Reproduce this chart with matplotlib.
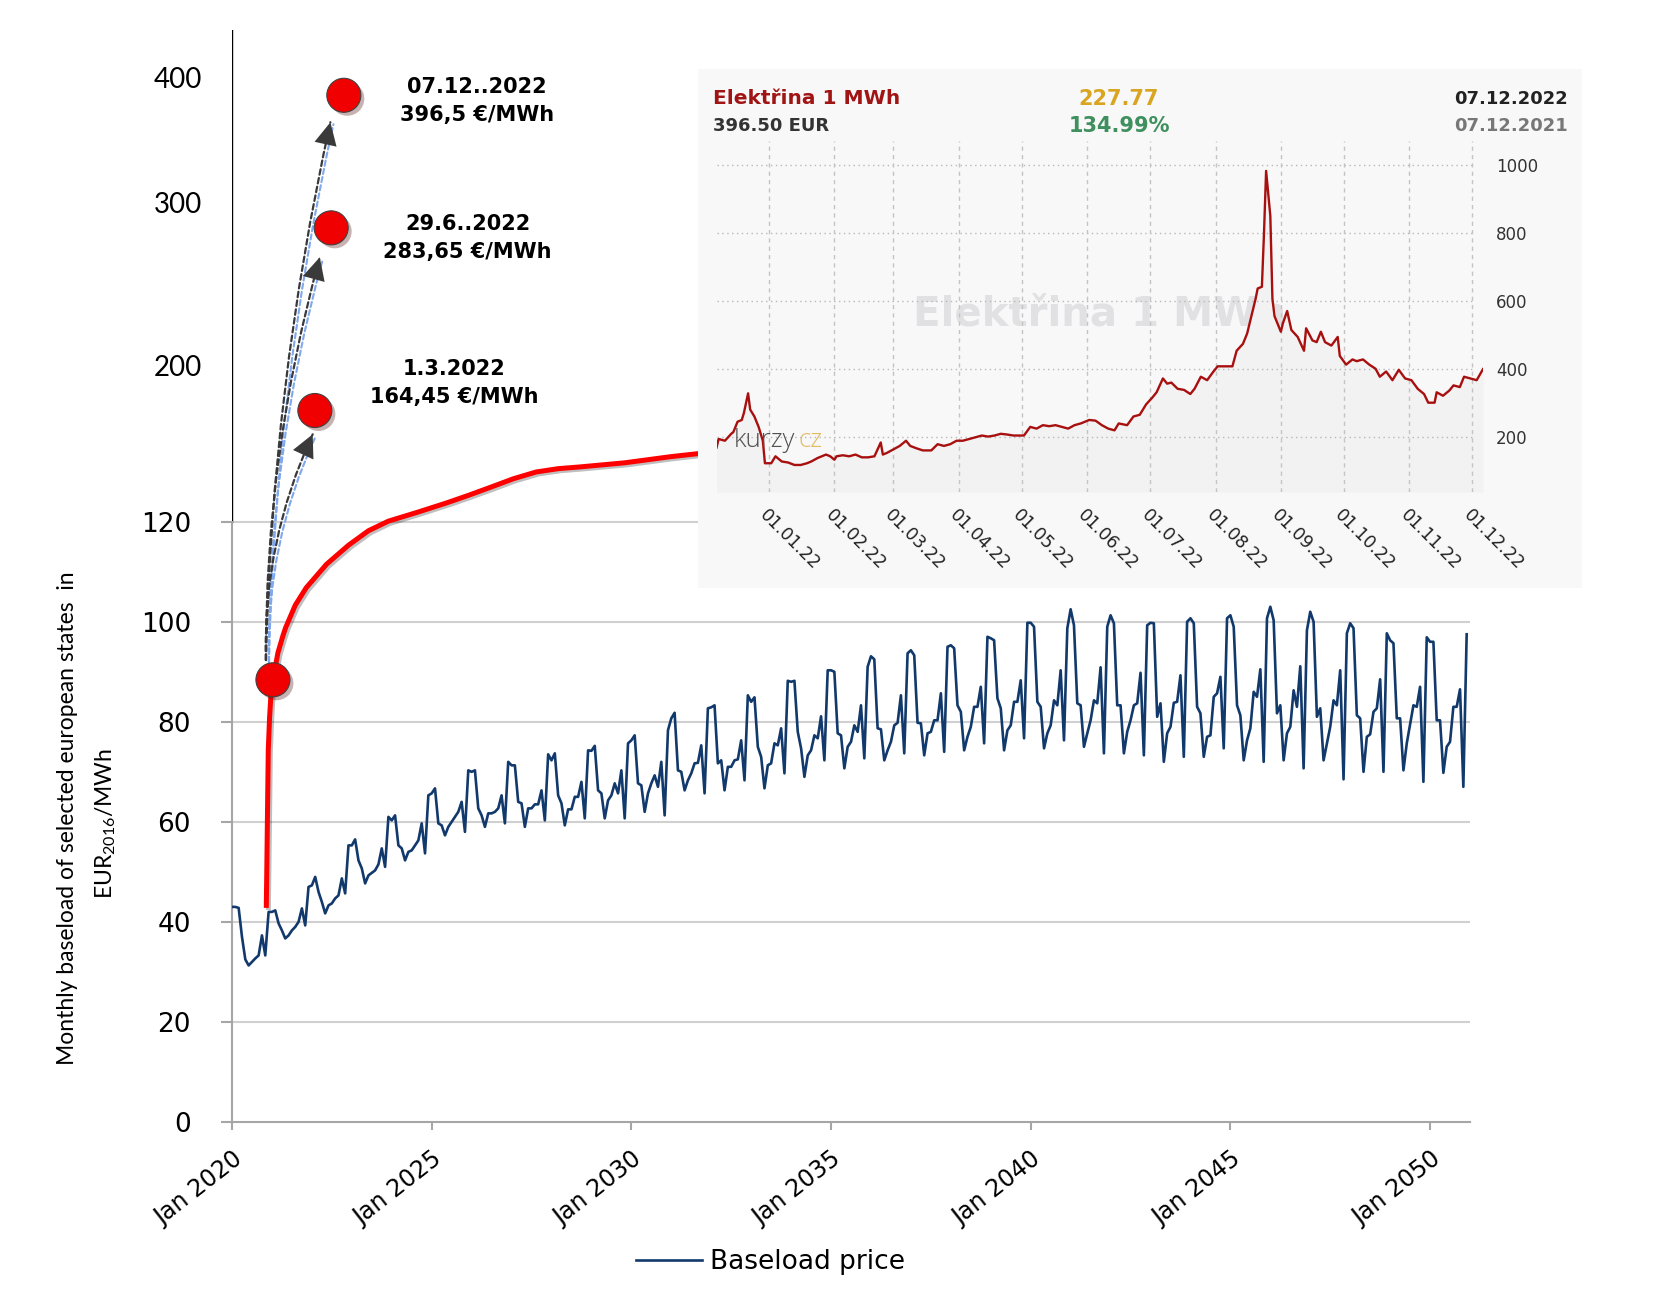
import numpy as np
import matplotlib
matplotlib.use("Agg")
import matplotlib.pyplot as plt
import matplotlib.patheffects as pe
from matplotlib.patches import FancyArrowPatch, Rectangle
from matplotlib.transforms import ScaledTranslation

plt.rcParams['font.family'] = 'DejaVu Sans'

# monthly baseload price, Jan..Dec of every year (EUR2016/MWh)
p2020 = [43.0, 43.0, 42.8, 37.0, 32.5, 31.3, 32.0, 32.7, 33.3, 37.3, 33.3, 42.0]
p2021 = [42.0, 42.3, 39.7, 38.3, 36.7, 37.3, 38.3, 39.0, 40.0, 42.7, 39.3, 47.0]
p2022 = [47.3, 49.0, 46.0, 44.0, 41.7, 43.3, 43.7, 44.7, 45.3, 48.7, 45.7, 55.3]
p2023 = [55.3, 56.5, 52.3, 50.7, 47.7, 49.3, 49.8, 50.3, 51.5, 54.7, 51.0, 61.0]
p2024 = [60.3, 61.3, 55.3, 54.7, 52.3, 54.0, 54.3, 55.3, 56.3, 59.7, 53.7, 65.3]
p2025 = [65.7, 66.7, 59.7, 59.3, 57.3, 59.0, 60.0, 61.0, 62.0, 64.0, 58.0, 70.3]
p2026 = [70.0, 70.3, 62.7, 61.3, 59.0, 61.7, 61.7, 62.0, 62.7, 65.3, 59.7, 72.0]
p2027 = [71.3, 71.3, 64.0, 63.7, 59.0, 62.7, 62.7, 63.5, 63.5, 66.3, 60.3, 73.5]
p2028 = [72.3, 73.7, 65.3, 63.7, 59.3, 62.5, 62.5, 65.0, 65.0, 68.0, 60.7, 74.3]
p2029 = [74.2, 75.2, 66.3, 65.7, 60.7, 64.3, 65.3, 67.7, 65.7, 70.3, 60.7, 75.7]
p2030 = [76.3, 77.3, 67.7, 67.3, 62.0, 65.7, 67.7, 69.3, 67.0, 72.0, 61.3, 78.3]
p2031 = [80.7, 81.8, 70.3, 70.0, 66.3, 68.3, 69.7, 71.7, 71.8, 75.3, 65.7, 82.7]
p2032 = [82.9, 83.3, 71.7, 72.3, 66.3, 71.0, 71.0, 72.3, 72.5, 76.3, 68.3, 85.3]
p2033 = [84.0, 84.9, 75.0, 73.0, 66.7, 71.3, 71.7, 75.7, 75.3, 78.7, 69.7, 88.2]
p2034 = [88.0, 88.2, 78.0, 74.7, 69.0, 73.3, 74.3, 77.3, 76.7, 81.1, 72.3, 90.3]
p2035 = [90.3, 90.0, 77.7, 77.3, 70.7, 75.0, 76.0, 79.3, 78.0, 83.3, 72.7, 91.0]
p2036 = [93.1, 92.5, 78.7, 78.5, 72.3, 74.3, 76.0, 79.3, 79.8, 85.3, 73.7, 93.7]
p2037 = [94.3, 93.3, 79.8, 79.7, 73.3, 77.7, 78.0, 80.3, 80.3, 85.7, 74.0, 95.0]
p2038 = [95.3, 94.7, 83.3, 82.0, 74.3, 77.0, 79.0, 83.0, 83.0, 87.0, 75.7, 97.0]
p2039 = [96.7, 96.3, 84.7, 82.7, 74.3, 78.3, 79.3, 84.0, 84.0, 88.3, 76.7, 99.8]
p2040 = [99.8, 99.0, 84.0, 83.0, 74.7, 77.7, 79.3, 84.3, 83.3, 90.3, 76.3, 98.7]
p2041 = [102.5, 99.3, 83.7, 83.3, 75.0, 77.7, 80.3, 84.3, 83.7, 90.9, 73.7, 99.0]
p2042 = [101.3, 99.7, 83.3, 83.3, 73.7, 78.0, 80.3, 83.3, 83.7, 89.8, 73.3, 99.3]
p2043 = [99.8, 99.7, 81.0, 83.7, 72.0, 77.7, 79.0, 83.8, 84.0, 89.3, 73.0, 100.0]
p2044 = [100.7, 99.7, 83.0, 81.7, 73.0, 77.0, 77.3, 85.0, 85.7, 89.0, 74.7, 100.7]
p2045 = [101.3, 99.0, 83.3, 81.3, 72.3, 76.3, 78.7, 86.0, 85.0, 90.5, 72.0, 100.7]
p2046 = [103.0, 100.3, 81.7, 83.3, 72.3, 77.7, 79.0, 86.3, 83.0, 91.1, 70.7, 98.3]
p2047 = [102.0, 100.0, 81.0, 82.7, 72.3, 75.7, 79.0, 84.3, 83.3, 90.3, 68.5, 97.7]
p2048 = [99.7, 98.7, 81.3, 80.7, 70.0, 77.0, 77.5, 82.0, 82.7, 88.5, 70.0, 97.7]
p2049 = [96.3, 95.7, 80.7, 80.7, 70.3, 75.7, 79.5, 83.3, 83.0, 87.0, 68.0, 96.9]
p2050 = [96.0, 96.0, 80.3, 80.3, 69.8, 75.0, 76.0, 83.0, 83.0, 86.5, 67.0, 97.5]

baseload = np.concatenate([p2020, p2021, p2022, p2023, p2024, p2025, p2026, p2027,
                           p2028, p2029, p2030, p2031, p2032, p2033, p2034, p2035,
                           p2036, p2037, p2038, p2039, p2040, p2041, p2042, p2043,
                           p2044, p2045, p2046, p2047, p2048, p2049, p2050])
months = np.arange(len(baseload))   # 0 = Jan 2020

# red hand-drawn curve (month index, EUR/MWh)
trend_m = [10.3, 10.45, 10.6, 10.9, 11.3, 11.8, 12.3, 13.8, 15.3, 16.1, 19.0, 22.3,
           28.4, 35.0, 41.0, 47.0, 56.0, 64.4, 71.0, 77.9, 84.5, 91.4, 98.0, 104.6,
           118.0, 131.6, 139.5, 148.0]
trend_v = [42.8, 50.0, 58.4, 74.4, 81.0, 86.4, 88.4, 93.8, 97.2, 98.8, 103.3, 106.8,
           111.5, 115.3, 118.2, 120.3, 125.0, 129.6, 133.5, 137.8, 142.0, 145.5, 147.2,
           148.1, 150.2, 153.3, 154.8, 156.0]

# red dots and arrows
spot_m = [12.3, 24.9, 29.8, 33.6]
spot_v = [88.4, 177.0, 284.5, 385.8]
arrow_start = (10.2, 91.8)
arrow_end_m = [24.6, 26.6, 29.75]
arrow_end_v = [166.1, 268.1, 366.4]
arrow_rad = [-0.12, -0.07, -0.05]
note_m = [66.7, 70.8, 73.6]
note_v = [191.1, 278.1, 381.0]
note_text = ['1.3.2022\n164,45 €/MWh', '29.6..2022\n283,65 €/MWh',
             '07.12..2022\n396,5 €/MWh']

x_ticks = [0, 60, 120, 180, 240, 300, 360]
x_labels = ['Jan 2020', 'Jan 2025', 'Jan 2030', 'Jan 2035', 'Jan 2040', 'Jan 2045', 'Jan 2050']
y_ticks = [0, 20, 40, 60, 80, 100, 120, 200, 300, 400]
grid_vals = [20, 40, 60, 80, 100, 120]

# inset: daily price of 1 MWh, days after 07.12.2021
inset_day = [0, 1, 4, 7, 8, 10, 12, 13, 15, 16,
             18, 20, 22, 23, 26, 28, 31, 34, 37, 40,
             43, 45, 48, 52, 54, 56, 57, 60, 63, 66,
             69, 72, 75, 78, 79, 81, 84, 87, 90, 92,
             95, 98, 102, 105, 108, 111, 114, 117, 120, 123,
             126, 129, 132, 135, 138, 141, 146, 149, 152, 155,
             158, 161, 164, 167, 170, 173, 177, 180, 183, 186,
             189, 191, 195, 198, 201, 204, 207, 209, 212, 214,
             216, 219, 222, 225, 227, 230, 233, 236, 238, 240,
             243, 245, 247, 250, 252, 254, 256, 257, 259, 260,
             261, 263, 264, 265, 268, 269, 271, 273, 276, 279,
             280, 283, 285, 287, 289, 292, 295, 296, 299, 302,
             304, 307, 310, 313, 315, 318, 321, 324, 327, 330,
             333, 336, 338, 341, 342, 345, 348, 350, 353, 355,
             358, 361, 364]
inset_price = [169.4, 194.9, 189.8, 210.2, 215.3, 245.8, 250.9, 271.3, 329.3, 281.5,
               261.1, 230.5, 189.8, 123.6, 123.6, 144.0, 128.7, 125.7, 118.5, 118.5,
               123.6, 128.7, 138.9, 149.1, 144.0, 133.8, 144.0, 147.0, 144.0, 149.1,
               140.9, 140.9, 144.0, 184.7, 149.1, 154.2, 164.4, 174.5, 189.8, 174.5,
               167.4, 161.3, 161.3, 179.6, 174.5, 179.6, 189.8, 189.8, 194.9, 200.0,
               205.1, 202.0, 205.1, 210.2, 208.1, 205.1, 205.1, 230.5, 225.5, 235.6,
               232.6, 235.6, 230.5, 225.5, 235.6, 240.7, 250.9, 248.9, 235.6, 225.5,
               220.4, 240.7, 235.6, 261.1, 266.2, 296.7, 317.1, 332.4, 373.1, 357.8,
               360.9, 342.6, 339.5, 327.3, 342.6, 378.2, 368.0, 393.5, 408.8, 408.8,
               408.8, 408.8, 454.6, 475.0, 505.5, 556.4, 607.3, 637.9, 643.0, 800.8,
               984.1, 851.7, 607.3, 556.4, 510.6, 536.0, 571.7, 515.7, 495.3, 454.6,
               520.8, 485.1, 480.0, 510.6, 480.0, 469.9, 495.3, 439.3, 413.8, 429.1,
               424.0, 429.1, 413.8, 401.6, 378.2, 393.5, 368.0, 398.6, 373.1, 368.0,
               342.6, 327.3, 301.8, 301.8, 332.4, 322.2, 337.5, 352.7, 347.7, 378.2,
               373.1, 368.0, 400.6]
inset_month_day = [25, 56, 84, 115, 145, 176, 206, 237, 268, 298, 329, 359]
inset_month_lab = ['01.01.22', '01.02.22', '01.03.22', '01.04.22', '01.05.22', '01.06.22',
                   '01.07.22', '01.08.22', '01.09.22', '01.10.22', '01.11.22', '01.12.22']
inset_yticks = [200, 400, 600, 800, 1000]

W, H = 1668, 1291


def fx(px):
    return px / W


def fy(py):
    return 1 - py / H


# the y axis is squeezed above 120
knots = [-100, 0, 120, 200, 300, 400, 1000]
knot_px = [-500, 0, 600, 756, 919, 1044, 1794]


def fwd(v):
    return np.interp(v, knots, knot_px)


def inv(p):
    return np.interp(p, knot_px, knots)


fig = plt.figure(figsize=(W / 100, H / 100), dpi=100)
ax = fig.add_axes([fx(232), fy(1122), (1470 - 232) / W, (1122 - 30) / H], zorder=1)
ax.set_yscale('function', functions=(fwd, inv))
ax.set_xlim(0, 372)
ax.set_ylim(0, 438)

ax.hlines(grid_vals, 0, 372, colors='#d0d0d0', lw=1.5, zorder=0)
blue, = ax.plot(months, baseload, color='#12396b', lw=1.9, zorder=3)

ax.plot(trend_m, trend_v, color='#ff0000', lw=3.6, solid_capstyle='butt', zorder=4,
        path_effects=[pe.SimpleLineShadow(offset=(1.5, -1.5), alpha=0.25), pe.Normal()])

# dashed arrows from the forecast point up to the real prices
shift = ScaledTranslation(3 / 100, -2 / 100, fig.dpi_scale_trans)
for m, v, r in zip(arrow_end_m, arrow_end_v, arrow_rad):
    conn = f'arc3,rad={r}'
    ax.add_patch(FancyArrowPatch(arrow_start, (m, v), connectionstyle=conn,
                                 arrowstyle='-', color='#7fa8ee', lw=1.5,
                                 linestyle=(0, (2.5, 1.5)),
                                 transform=ax.transData + shift, zorder=4))
    ax.add_patch(FancyArrowPatch(arrow_start, (m, v), connectionstyle=conn,
                                 arrowstyle='-', color='#3a3a3a', lw=1.6,
                                 linestyle=(0, (2.5, 1.5)), zorder=5))
    ax.add_patch(FancyArrowPatch(arrow_start, (m, v), connectionstyle=conn,
                                 arrowstyle='-|>,head_length=0.9,head_width=0.45',
                                 mutation_scale=18, facecolor='#3a3a3a',
                                 edgecolor='none', lw=0, zorder=5))

ax.scatter(spot_m, spot_v, s=600, c='#f00000', edgecolors='#404040', linewidths=0.8,
           zorder=6, path_effects=[pe.SimplePatchShadow(offset=(2.5, -2.5), alpha=0.3),
                                   pe.Normal()])

for m, v, t in zip(note_m, note_v, note_text):
    ax.text(m, v, t, ha='center', va='center', fontsize=15, fontweight='bold',
            linespacing=1.5)

# axes look
for s in ['top', 'right']:
    ax.spines[s].set_visible(False)
ax.spines['left'].set_bounds(0, 120)
ax.spines['left'].set_color('#a6a6a6')
ax.spines['left'].set_linewidth(1.5)
ax.spines['bottom'].set_color('#a6a6a6')
ax.spines['bottom'].set_linewidth(1.5)
ax.axvline(0, ymin=float(fwd(120) / fwd(438)), ymax=1, color='black', lw=1)

ax.set_xticks(x_ticks, x_labels)
ax.tick_params(axis='x', length=6, width=1.5, color='#a6a6a6', pad=12, labelsize=17)
for lab in ax.get_xticklabels():
    lab.set_rotation(38)
    lab.set_ha('right')
    lab.set_rotation_mode('anchor')

ax.set_yticks(y_ticks, [str(v) for v in y_ticks])
ax.tick_params(axis='y', length=8, width=1.5, color='#a6a6a6', pad=21.5, labelsize=19)
for t in ax.yaxis.get_major_ticks():
    if t.get_loc() > 120:
        t.tick1line.set_visible(False)
        t.set_pad(13.6)
        t.label1.set_fontfamily(['Lato', 'DejaVu Sans'])
        t.label1.set_fontsize(20)

narrow = ['Lato', 'DejaVu Sans']
fig.text(fx(68), fy(818), 'Monthly baseload of selected european states  in', rotation=90,
         ha='center', va='center', fontsize=16.5, family=narrow)
fig.text(fx(106), fy(823), r'EUR$_{\mathregular{2016}}$/MWh', rotation=90,
         ha='center', va='center', fontsize=16.5, family=narrow)

fig.legend([blue], ['Baseload price'], loc='center left',
           bbox_to_anchor=(fx(636), fy(1262)), frameon=False, handlelength=2.5,
           handletextpad=0.3, borderpad=0, borderaxespad=0, prop={'size': 19})

# inset chart from kurzy.cz
fig.add_artist(Rectangle((fx(698), fy(588)), (1582 - 698) / W, (588 - 69) / H,
                         transform=fig.transFigure, facecolor='#f8f8f8',
                         edgecolor='none', zorder=2))
ax_in = fig.add_axes([fx(716.5), fy(492), (1483 - 716.5) / W, (492 - 141) / H], zorder=3)
ax_in.set_facecolor('none')
for s in ax_in.spines.values():
    s.set_visible(False)
ax_in.set_xlim(0, 364)
ax_in.set_ylim(38.9, 1072)

ax_in.text(fx(1100), fy(315), 'Elektřina 1 MWh', transform=fig.transFigure, ha='center',
           va='center', fontsize=29, fontweight='bold', color='#e1e1e3', zorder=1)
ax_in.fill_between(inset_day, inset_price, 38.9, color='#f2f2f2', lw=0, zorder=2)
ax_in.hlines(inset_yticks, 0, 359, colors='#b8b8b8', linestyles=(0, (1, 2.5)), lw=1, zorder=3)
ax_in.vlines(inset_month_day, 38.9, 1072, colors='#c4c4c4', linestyles=(0, (3, 3)), lw=1,
             zorder=3)
ax_in.plot(inset_day, inset_price, color='#a80f0f', lw=1.7, zorder=4)

ax_in.yaxis.tick_right()
ax_in.set_yticks(inset_yticks, [str(v) for v in inset_yticks])
ax_in.tick_params(axis='y', length=0, pad=9.4, labelsize=12, labelcolor='#333333')
ax_in.set_xticks(inset_month_day, inset_month_lab)
ax_in.tick_params(axis='x', length=0, pad=10, labelsize=12.5, labelcolor='#222222')
for lab in ax_in.get_xticklabels():
    lab.set_rotation(-45)
    lab.set_ha('left')
    lab.set_rotation_mode('anchor')

logo = ['Open Sans', 'DejaVu Sans']
ax_in.text(fx(734), fy(447), 'kurzy', transform=fig.transFigure, ha='left', va='baseline',
           fontsize=18.5, family=logo, fontweight='light', color='#505050', zorder=5)
ax_in.text(fx(798), fy(447), 'cz', transform=fig.transFigure, ha='left', va='baseline',
           fontsize=18.5, family=logo, fontweight='light', color='#e2bb63', zorder=5)

fig.text(fx(713), fy(99), 'Elektřina 1 MWh', ha='left', va='center', fontsize=14.5,
         fontweight='bold', color='#a01414', zorder=5)
fig.text(fx(713), fy(126), '396.50 EUR', ha='left', va='center', fontsize=13,
         fontweight='bold', color='#333333', zorder=5)
fig.text(fx(1119), fy(99), '227.77', ha='center', va='center', fontsize=15,
         fontweight='bold', color='#d9a520', zorder=5)
fig.text(fx(1119), fy(126), '134.99%', ha='center', va='center', fontsize=15,
         fontweight='bold', color='#3f8f5f', zorder=5)
fig.text(fx(1568), fy(99), '07.12.2022', ha='right', va='center', fontsize=13,
         fontweight='bold', color='#222222', zorder=5)
fig.text(fx(1568), fy(126), '07.12.2021', ha='right', va='center', fontsize=13,
         fontweight='bold', color='#777777', zorder=5)

fig.savefig('out.png', dpi=100, facecolor='white')
